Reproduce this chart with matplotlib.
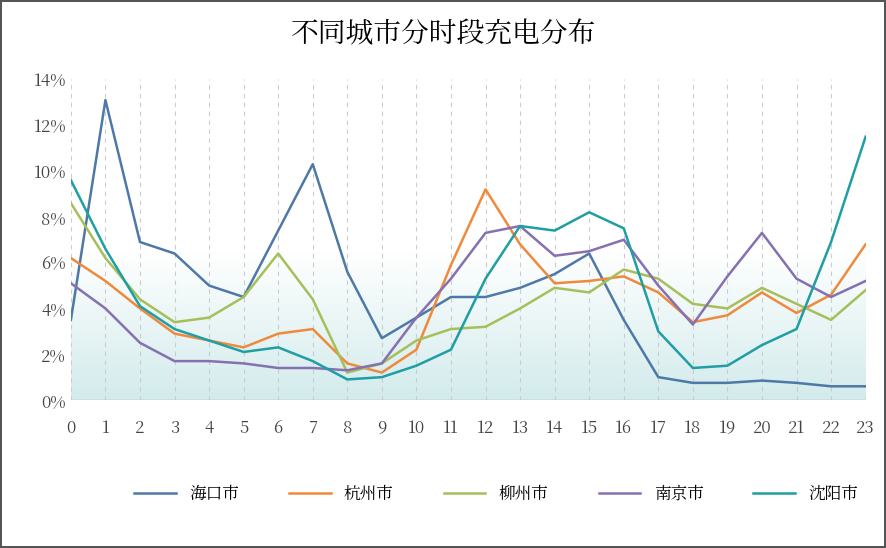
import numpy as np
import matplotlib.pyplot as plt
from matplotlib import font_manager
from matplotlib.colors import LinearSegmentedColormap

# make sure a CJK font is registered and picked
cjk_name = None
for path in font_manager.findSystemFonts():
    if 'CJK' in path:
        try:
            font_manager.fontManager.addfont(path)
            prop = font_manager.FontProperties(fname=path)
            if cjk_name is None or 'SC' in prop.get_name():
                cjk_name = prop.get_name()
        except Exception:
            pass
plt.rcParams['font.family'] = 'sans-serif'
plt.rcParams['font.sans-serif'] = [n for n in [cjk_name, 'Noto Sans CJK SC', 'Noto Sans CJK JP', 'DejaVu Sans'] if n]

hours = list(range(24))
haikou = [3.5, 13.1, 6.9, 6.4, 5.0, 4.5, 7.4, 10.3, 5.6, 2.7, 3.6, 4.5, 4.5, 4.9, 5.5, 6.4, 3.5, 1.0, 0.75, 0.75, 0.85, 0.75, 0.6, 0.6]
hangzhou = [6.2, 5.2, 4.0, 2.9, 2.6, 2.3, 2.9, 3.1, 1.6, 1.2, 2.2, 5.9, 9.2, 6.8, 5.1, 5.2, 5.4, 4.7, 3.4, 3.7, 4.7, 3.8, 4.6, 6.8]
liuzhou = [8.6, 6.2, 4.4, 3.4, 3.6, 4.5, 6.4, 4.4, 1.2, 1.6, 2.6, 3.1, 3.2, 4.0, 4.9, 4.7, 5.7, 5.3, 4.2, 4.0, 4.9, 4.2, 3.5, 4.8]
nanjing = [5.1, 4.0, 2.5, 1.7, 1.7, 1.6, 1.4, 1.4, 1.3, 1.6, 3.6, 5.3, 7.3, 7.6, 6.3, 6.5, 7.0, 5.0, 3.3, 5.4, 7.3, 5.3, 4.5, 5.2]
shenyang = [9.6, 6.6, 4.1, 3.1, 2.6, 2.1, 2.3, 1.7, 0.9, 1.0, 1.5, 2.2, 5.3, 7.6, 7.4, 8.2, 7.5, 3.0, 1.4, 1.5, 2.4, 3.1, 6.9, 11.5]

series = [('海口市', haikou, '#4e79a7'), ('杭州市', hangzhou, '#ef8a3c'),
          ('柳州市', liuzhou, '#a7bf5a'), ('南京市', nanjing, '#8571b0'),
          ('沈阳市', shenyang, '#1f9ea3')]

fig = plt.figure(figsize=(8.86, 5.48), dpi=100)
fig.patch.set_edgecolor('#555555')
fig.patch.set_linewidth(1.5)
ax = fig.add_axes([0.08, 0.27, 0.897, 0.585])

# light gradient band near the baseline
cmap = LinearSegmentedColormap.from_list('g', ['#ffffff', '#d3ebec'])
grad = np.linspace(0, 1, 100).reshape(-1, 1)
ax.imshow(grad, aspect='auto', cmap=cmap, extent=[0, 23, 0, 6.5], origin='upper', zorder=0)

for x in hours:
    ax.axvline(x, color='#cccccc', lw=0.8, ls=(0, (4, 4)), zorder=1)
ax.axhline(0, color='#bbbbbb', lw=1, zorder=1)

for name, vals, c in series:
    ax.plot(hours, vals, color=c, lw=1.8, label=name, zorder=3)

ax.set_xlim(0, 23)
ax.set_ylim(0, 14)
ax.set_xticks(hours)
ax.set_yticks(range(0, 15, 2))
ax.set_yticklabels([f'{v}%' for v in range(0, 15, 2)])
ax.tick_params(length=0, labelsize=12, colors='#444444')
ax.tick_params(axis='x', pad=14)
for s in ax.spines.values():
    s.set_visible(False)

fig.suptitle('不同城市分时段充电分布', fontsize=20, x=0.5, y=0.965)
fig.legend(loc='lower center', ncol=5, frameon=False, fontsize=12,
           bbox_to_anchor=(0.56, 0.055), handlelength=2.5, columnspacing=3)

plt.savefig('out.png')
